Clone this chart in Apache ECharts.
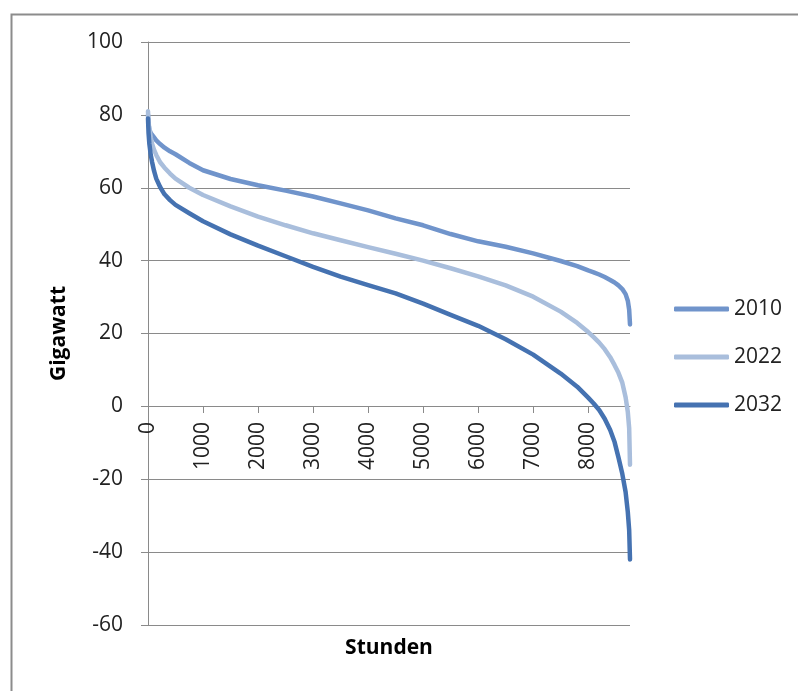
<!DOCTYPE html>
<html>
<head>
<meta charset="utf-8">
<script src="https://cdn.jsdelivr.net/npm/echarts@6/dist/echarts.min.js"></script>
<style>
	html, body { margin: 0; padding: 0; background: #fff; }
	#chart { width: 798px; height: 691px; }
</style>
</head>
<body>
<div id="chart"></div>
<script>
// Stunden (sortierte Jahresdauerlinie)
var hours = [0, 10, 25, 50, 75, 110, 150, 220, 300, 400, 500, 750, 1000, 1500, 2000, 2500, 3000, 3500, 4000, 4500, 5000,
	5500, 6000, 6500, 7000, 7500, 7800, 8000, 8100, 8200, 8300, 8400, 8480, 8550, 8620, 8680, 8720, 8745, 8760];

var load2010 = [80, 77.5, 76, 75, 74.5, 73.8, 73, 72, 71, 70, 69.2, 66.8, 64.8, 62.4, 60.7, 59.2, 57.6, 55.7, 53.8, 51.6, 49.7,
	47.3, 45.3, 43.8, 42.0, 39.9, 38.5, 37.3, 36.8, 36.2, 35.5, 34.7, 34.0, 33.2, 32.2, 30.8, 29.0, 26.5, 22.5];
var load2022 = [81, 78, 76, 73.8, 72, 70.4, 69, 67, 65.5, 63.9, 62.5, 60, 58, 54.9, 52.1, 49.7, 47.5, 45.6, 43.7, 41.9, 40.0,
	37.9, 35.7, 33.2, 30.1, 26.0, 22.9, 20.4, 19.0, 17.5, 15.7, 13.5, 11.3, 9.2, 6.5, 2.5, -1.5, -6, -16];
var load2032 = [79, 75, 72, 69, 67, 64.6, 62.5, 60.2, 58.2, 56.6, 55.3, 53, 50.8, 47.2, 44.1, 41.2, 38.3, 35.6, 33.3, 31.0, 28.2,
	25.1, 22.1, 18.4, 14.2, 9.0, 5.4, 2.4, 0.8, -1, -3.4, -6.5, -9.8, -14, -18.5, -23.5, -29, -34, -42];

var seriesNames = ['2010', '2022', '2032'];
var yTicks = [-60, -40, -20, 0, 20, 40, 60, 80, 100];

var fontName = 'Open Sans';
var gridColor = '#8a8a8a';

function pairs(values) {
	var out = [];
	for (var i = 0; i < hours.length; i++) {
		out.push([hours[i], values[i]]);
	}
	return out;
}

function lineSeries(name, values, color) {
	return {
		name: name,
		type: 'line',
		data: pairs(values),
		showSymbol: false,
		smooth: false,
		lineStyle: { width: 4.5, color: color, cap: 'round', join: 'round' },
		itemStyle: { color: color }
	};
}

var myChart = echarts.init(document.getElementById('chart'));
var option = {
	animation: false,
	color: ['#7094cb', '#a9bedc', '#4572b1'],
	graphic: [{
		type: 'rect',
		left: 9,
		top: 12,
		shape: { width: 820, height: 720 },
		style: { fill: 'none', stroke: '#8c8c8c', lineWidth: 2 },
		silent: true
	}],
	legend: {
		orient: 'vertical',
		left: 669,
		top: 292,
		itemWidth: 55,
		itemHeight: 5,
		itemGap: 24,
		icon: 'roundRect',
		data: seriesNames,
		textStyle: { fontFamily: fontName, fontSize: 21, color: '#222', lineHeight: 24 }
	},
	grid: {
		left: 148,
		right: 168,
		top: 42,
		bottom: 66,
		containLabel: false,
		outerBoundsMode: 'none'
	},
	xAxis: {
		type: 'value',
		min: 0,
		max: 8760,
		interval: 1000,
		// Achse liegt bei 0 GW: 219 px über dem unteren Rand
		offset: -219,
		name: 'Stunden',
		nameLocation: 'middle',
		nameGap: 232,
		nameTextStyle: { fontFamily: fontName, fontSize: 21, fontWeight: 'bold', color: '#000' },
		axisLine: { onZero: false, lineStyle: { color: gridColor, width: 1 } },
		axisTick: { show: true, inside: false, length: 7, lineStyle: { color: gridColor } },
		splitLine: { show: false },
		axisLabel: {
			rotate: 90,
			margin: 16,
			showMaxLabel: false,
			fontFamily: fontName,
			fontSize: 21,
			color: '#222',
			formatter: function (v) { return String(v); }
		}
	},
	yAxis: {
		type: 'value',
		min: yTicks[0],
		max: yTicks[yTicks.length - 1],
		interval: 20,
		name: 'Gigawatt',
		nameLocation: 'middle',
		nameGap: 78,
		nameRotate: 90,
		nameTextStyle: { fontFamily: fontName, fontSize: 21, fontWeight: 'bold', color: '#000' },
		axisLine: { show: true, lineStyle: { color: gridColor, width: 1 } },
		axisTick: { show: true, inside: false, length: 7, lineStyle: { color: gridColor } },
		splitLine: { show: true, lineStyle: { color: gridColor, width: 1 } },
		axisLabel: { margin: 25, fontFamily: fontName, fontSize: 21, color: '#222' }
	},
	series: [
		lineSeries(seriesNames[0], load2010, '#7094cb'),
		lineSeries(seriesNames[1], load2022, '#a9bedc'),
		lineSeries(seriesNames[2], load2032, '#4572b1')
	]
};
myChart.setOption(option);
</script>
</body>
</html>
